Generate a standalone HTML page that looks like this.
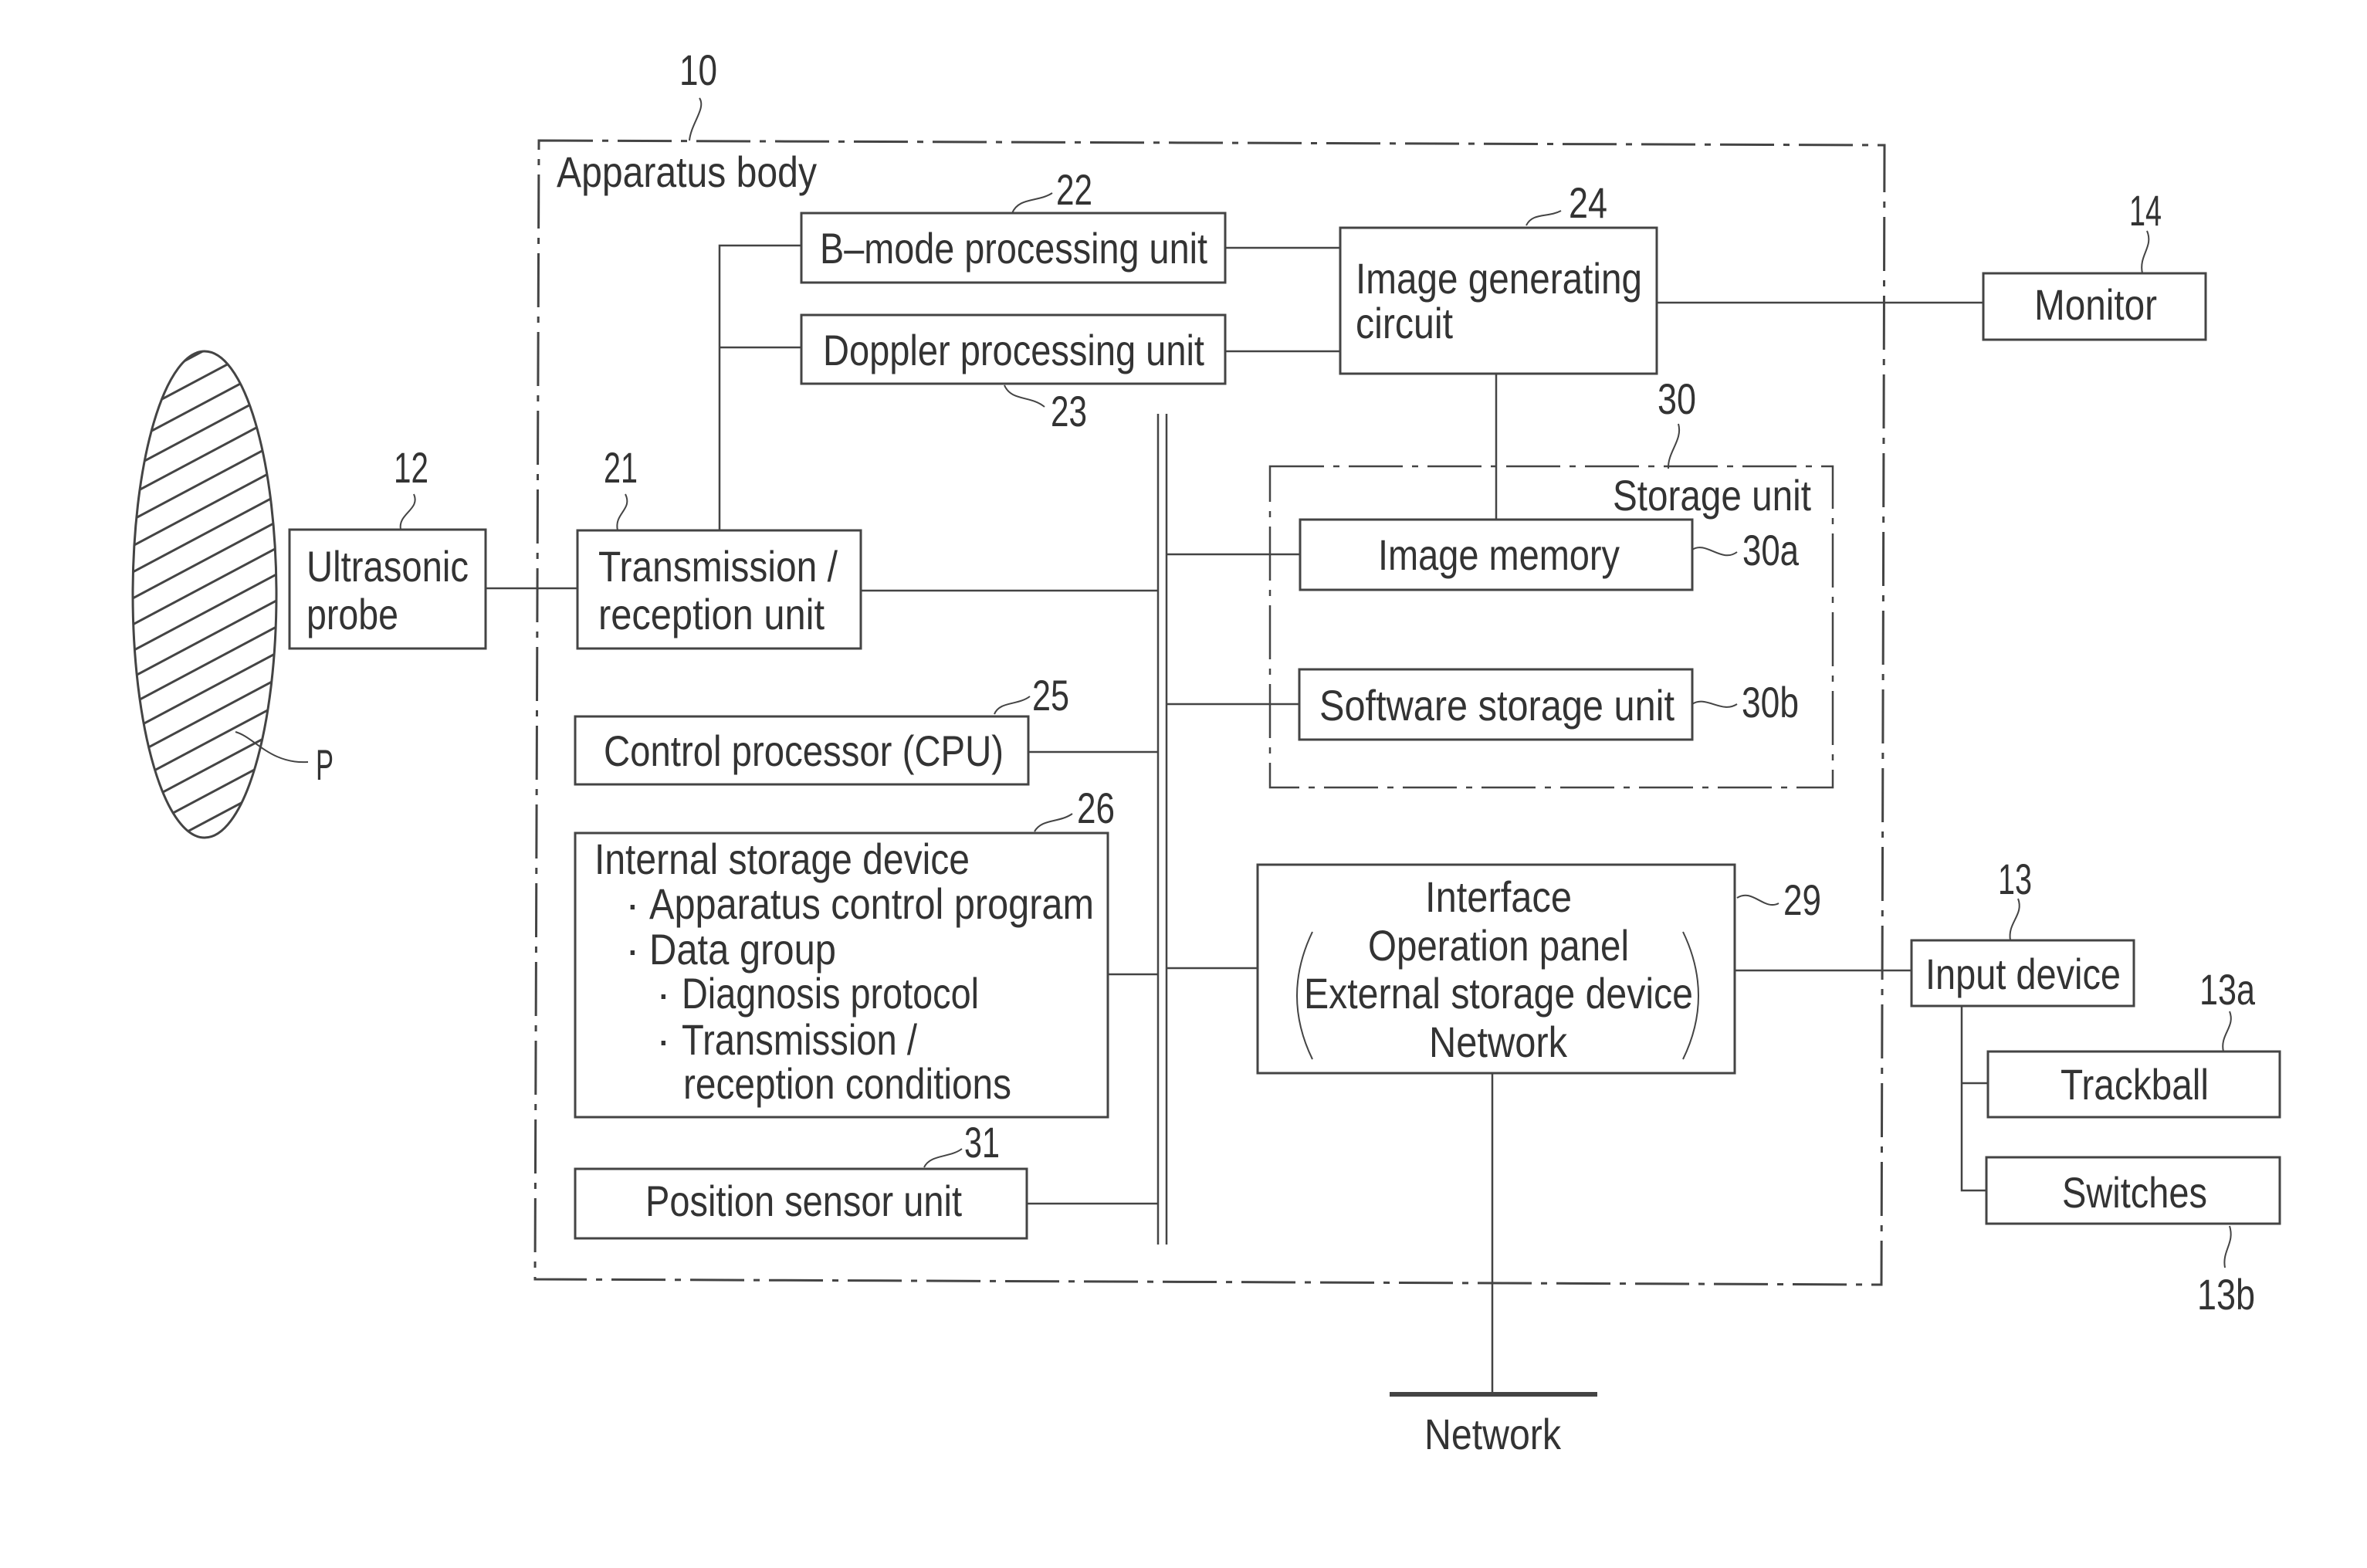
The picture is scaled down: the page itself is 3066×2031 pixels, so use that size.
<!DOCTYPE html>
<html><head><meta charset="utf-8"><style>
html,body{margin:0;padding:0;background:#fff}
svg{display:block}
text{font-family:"Liberation Sans",Arial,sans-serif;font-size:56px;fill:#333}
</style></head><body>
<svg width="3066" height="2031" viewBox="0 0 3066 2031" xmlns="http://www.w3.org/2000/svg">
<defs>
<clipPath id="ec"><ellipse cx="265" cy="770" rx="93" ry="315"/></clipPath>
<pattern id="hatch" patternUnits="userSpaceOnUse" width="60" height="30" patternTransform="rotate(-28)">
<line x1="0" y1="15" x2="60" y2="15" stroke="#444" stroke-width="3"/>
</pattern>
</defs>
<g fill="none" stroke="#444" stroke-width="3">
<!-- ellipse P -->
<ellipse cx="265" cy="770" rx="93" ry="315" fill="url(#hatch)"/>
<path d="M305,948 C330,955 350,990 399,987" stroke-width="2"/>
<!-- Apparatus body dashed -->
<path d="M698,182 L2441,188 L2437,1664 L693,1657 Z" stroke-width="3" stroke-dasharray="70 12 8 12"/>
<path d="M906,127 C915,140 895,160 893,182" stroke-width="2"/>
<!-- storage unit dashed -->
<rect x="1645" y="604" width="729" height="416" stroke-width="2.5" stroke-dasharray="70 12 8 12"/>
<path d="M2174,549 C2180,570 2160,585 2161,607" stroke-width="2"/>
<!-- boxes -->
<rect x="375" y="686" width="254" height="154"/>
<rect x="748" y="687" width="367" height="153"/>
<rect x="1038" y="276" width="549" height="90"/>
<rect x="1038" y="408" width="549" height="89"/>
<rect x="1736" y="295" width="410" height="189"/>
<rect x="2569" y="354" width="288" height="86"/>
<rect x="1684" y="673" width="508" height="91"/>
<rect x="1683" y="867" width="509" height="91"/>
<rect x="745" y="928" width="587" height="88"/>
<rect x="745" y="1079" width="690" height="368"/>
<rect x="745" y="1514" width="585" height="90"/>
<rect x="1629" y="1120" width="618" height="270"/>
<rect x="2476" y="1218" width="288" height="85"/>
<rect x="2575" y="1362" width="378" height="85"/>
<rect x="2573" y="1499" width="380" height="86"/>
<!-- connectors -->
<g stroke-width="2.5">
<line x1="629" y1="762" x2="748" y2="762"/>
<polyline points="932,687 932,318 1038,318"/>
<line x1="932" y1="450" x2="1038" y2="450"/>
<line x1="1587" y1="321" x2="1736" y2="321"/>
<line x1="1587" y1="455" x2="1736" y2="455"/>
<line x1="2146" y1="392" x2="2569" y2="392"/>
<line x1="1938" y1="484" x2="1938" y2="673"/>
<line x1="1500" y1="536" x2="1500" y2="1612"/>
<line x1="1511" y1="536" x2="1511" y2="1612"/>
<line x1="1115" y1="765" x2="1500" y2="765"/>
<line x1="1332" y1="974" x2="1500" y2="974"/>
<line x1="1435" y1="1262" x2="1500" y2="1262"/>
<line x1="1330" y1="1559" x2="1500" y2="1559"/>
<line x1="1511" y1="718" x2="1684" y2="718"/>
<line x1="1511" y1="912" x2="1683" y2="912"/>
<line x1="1511" y1="1254" x2="1629" y2="1254"/>
<line x1="2247" y1="1257" x2="2476" y2="1257"/>
<line x1="1933" y1="1390" x2="1933" y2="1806"/>
<polyline points="2541,1303 2541,1542 2573,1542"/>
<line x1="2541" y1="1403" x2="2575" y2="1403"/>
</g>
<line x1="1800" y1="1806" x2="2069" y2="1806" stroke-width="6"/>
<!-- parens -->
<path d="M1700,1207 Q1660,1290 1700,1372" stroke-width="2"/>
<path d="M2180,1207 Q2220,1290 2180,1372" stroke-width="2"/>
<!-- leaders -->
<g stroke-width="2">
<path d="M536,640 C545,660 515,665 519,686"/>
<path d="M810,640 C820,660 795,665 800,687"/>
<path d="M1311,276 C1320,255 1345,262 1363,250"/>
<path d="M1301,499 C1310,520 1335,512 1353,527"/>
<path d="M1977,292 C1985,275 2005,282 2022,273"/>
<path d="M2781,299 C2790,320 2770,330 2775,354"/>
<path d="M2192,712 C2210,700 2230,730 2250,715"/>
<path d="M2192,912 C2210,900 2230,925 2250,912"/>
<path d="M1340,1077 C1350,1060 1372,1066 1389,1054"/>
<path d="M1197,1512 C1205,1495 1230,1500 1246,1488"/>
<path d="M1288,925 C1295,908 1318,914 1334,902"/>
<path d="M2250,1163 C2270,1150 2285,1180 2304,1170"/>
<path d="M2614,1164 C2622,1185 2600,1195 2604,1218"/>
<path d="M2888,1310 C2896,1330 2875,1340 2880,1362"/>
<path d="M2888,1588 C2895,1610 2878,1620 2882,1642"/>
</g>
</g>
<!-- texts -->
<text x="721" y="242" textLength="337" lengthAdjust="spacingAndGlyphs">Apparatus body</text>
<text x="880" y="110" textLength="49" lengthAdjust="spacingAndGlyphs">10</text>
<text x="510" y="625" textLength="45" lengthAdjust="spacingAndGlyphs">12</text>
<text x="782" y="625" textLength="44" lengthAdjust="spacingAndGlyphs">21</text>
<text x="1368" y="265" textLength="47" lengthAdjust="spacingAndGlyphs">22</text>
<text x="1361" y="552" textLength="47" lengthAdjust="spacingAndGlyphs">23</text>
<text x="2032" y="282" textLength="50" lengthAdjust="spacingAndGlyphs">24</text>
<text x="1337" y="920" textLength="48" lengthAdjust="spacingAndGlyphs">25</text>
<text x="1395" y="1066" textLength="49" lengthAdjust="spacingAndGlyphs">26</text>
<text x="1249" y="1499" textLength="46" lengthAdjust="spacingAndGlyphs">31</text>
<text x="2147" y="536" textLength="50" lengthAdjust="spacingAndGlyphs">30</text>
<text x="2257" y="732" textLength="73" lengthAdjust="spacingAndGlyphs">30a</text>
<text x="2256" y="929" textLength="74" lengthAdjust="spacingAndGlyphs">30b</text>
<text x="2758" y="292" textLength="42" lengthAdjust="spacingAndGlyphs">14</text>
<text x="2310" y="1185" textLength="49" lengthAdjust="spacingAndGlyphs">29</text>
<text x="2588" y="1158" textLength="44" lengthAdjust="spacingAndGlyphs">13</text>
<text x="2849" y="1301" textLength="72" lengthAdjust="spacingAndGlyphs">13a</text>
<text x="2846" y="1696" textLength="75" lengthAdjust="spacingAndGlyphs">13b</text>
<text x="409" y="1010" textLength="23" lengthAdjust="spacingAndGlyphs">P</text>

<text x="397" y="753" textLength="210" lengthAdjust="spacingAndGlyphs">Ultrasonic</text>
<text x="397" y="815" textLength="119" lengthAdjust="spacingAndGlyphs">probe</text>
<text x="775" y="753" textLength="310" lengthAdjust="spacingAndGlyphs">Transmission /</text>
<text x="775" y="815" textLength="293" lengthAdjust="spacingAndGlyphs">reception unit</text>
<text x="1062" y="341" textLength="502" lengthAdjust="spacingAndGlyphs">B–mode processing unit</text>
<text x="1066" y="473" textLength="494" lengthAdjust="spacingAndGlyphs">Doppler processing unit</text>
<text x="1756" y="380" textLength="371" lengthAdjust="spacingAndGlyphs">Image generating</text>
<text x="1756" y="438" textLength="126" lengthAdjust="spacingAndGlyphs">circuit</text>
<text x="2635" y="414" textLength="159" lengthAdjust="spacingAndGlyphs">Monitor</text>
<text x="2089" y="661" textLength="257" lengthAdjust="spacingAndGlyphs">Storage unit</text>
<text x="1785" y="738" textLength="313" lengthAdjust="spacingAndGlyphs">Image memory</text>
<text x="1709" y="933" textLength="460" lengthAdjust="spacingAndGlyphs">Software storage unit</text>
<text x="782" y="992" textLength="518" lengthAdjust="spacingAndGlyphs">Control processor (CPU)</text>
<text x="770" y="1132" textLength="486" lengthAdjust="spacingAndGlyphs">Internal storage device</text>
<text x="810" y="1190">·</text>
<text x="841" y="1190" textLength="576" lengthAdjust="spacingAndGlyphs">Apparatus control program</text>
<text x="810" y="1249">·</text>
<text x="841" y="1249" textLength="242" lengthAdjust="spacingAndGlyphs">Data group</text>
<text x="850" y="1306">·</text>
<text x="883" y="1306" textLength="385" lengthAdjust="spacingAndGlyphs">Diagnosis protocol</text>
<text x="850" y="1366">·</text>
<text x="883" y="1366" textLength="305" lengthAdjust="spacingAndGlyphs">Transmission /</text>
<text x="885" y="1423" textLength="425" lengthAdjust="spacingAndGlyphs">reception conditions</text>
<text x="836" y="1575" textLength="410" lengthAdjust="spacingAndGlyphs">Position sensor unit</text>
<text x="1846" y="1181" textLength="190" lengthAdjust="spacingAndGlyphs">Interface</text>
<text x="1772" y="1244" textLength="338" lengthAdjust="spacingAndGlyphs">Operation panel</text>
<text x="1689" y="1306" textLength="504" lengthAdjust="spacingAndGlyphs">External storage device</text>
<text x="1851" y="1369" textLength="179" lengthAdjust="spacingAndGlyphs">Network</text>
<text x="2494" y="1281" textLength="253" lengthAdjust="spacingAndGlyphs">Input device</text>
<text x="2669" y="1424" textLength="192" lengthAdjust="spacingAndGlyphs">Trackball</text>
<text x="2671" y="1564" textLength="188" lengthAdjust="spacingAndGlyphs">Switches</text>
<text x="1845" y="1877" textLength="177" lengthAdjust="spacingAndGlyphs">Network</text>
</svg>
</body></html>
